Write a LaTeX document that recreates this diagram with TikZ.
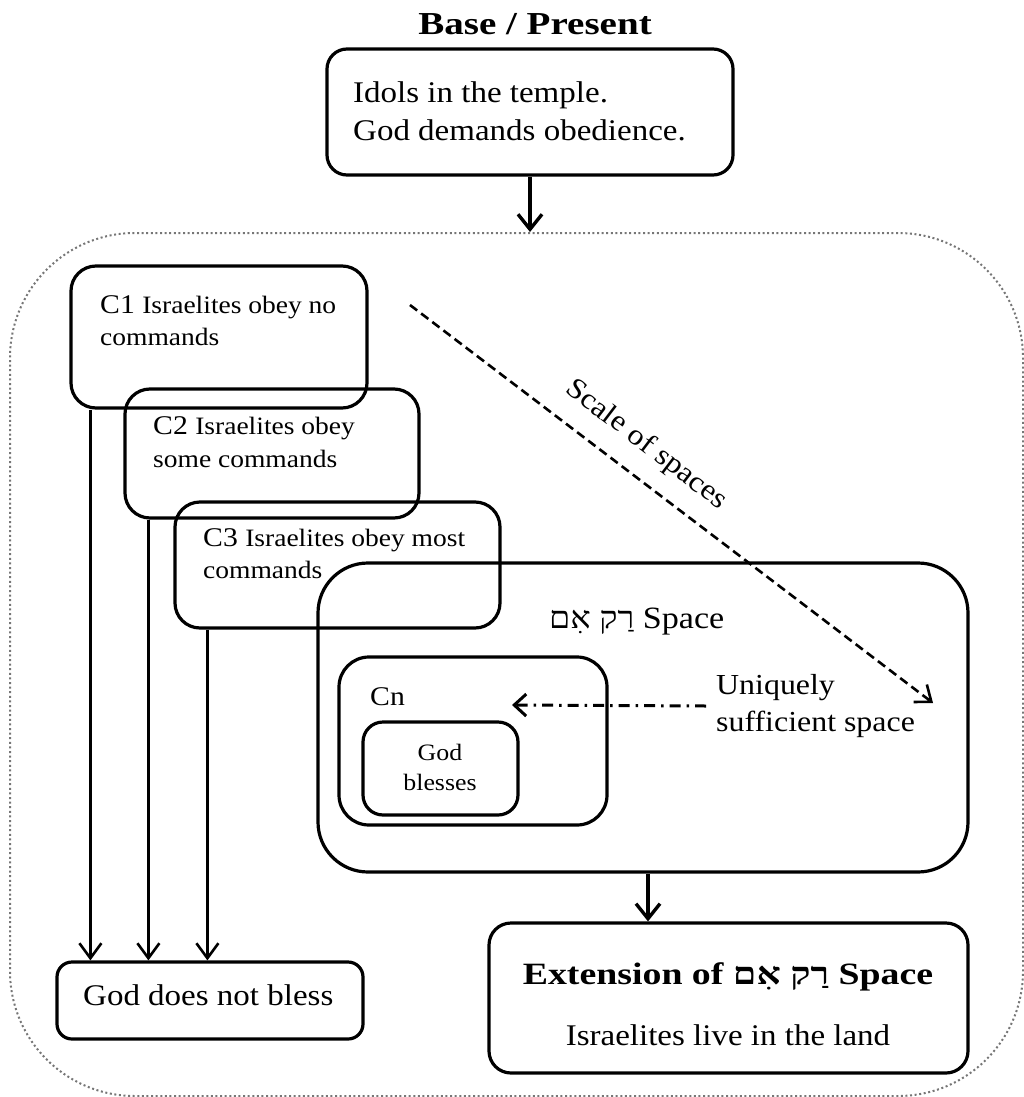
\documentclass[tikz,border=0pt]{standalone}
\usepackage{fontspec}
\setmainfont[FakeStretch=1.1]{Liberation Serif}
\newfontfamily\boldwide[FakeStretch=1.22]{Liberation Serif}
\newfontfamily\hebfont[Script=Hebrew,FakeStretch=1.1]{Liberation Serif}
\newfontfamily\hebboldwide[Script=Hebrew,FakeStretch=1.22]{Liberation Serif}
\TeXXeTstate=1
\usetikzlibrary{arrows.meta}
\newcommand\fsz[1]{\fontsize{#1}{#1}\selectfont}
\definecolor{framegrey}{RGB}{118,118,118}

\begin{document}
\begin{tikzpicture}[x=1pt,y=-1pt,
  box/.style={draw, line width=3.2pt, inner sep=0pt, rounded corners=#1},
  box/.default=20pt,
  txt/.style={inner sep=0pt, anchor=base west},
  outerframe/.style={draw=framegrey, line width=2pt, dash pattern=on 2pt off 2.6pt,
                     rounded corners=125pt, inner sep=0pt},
  conn/.style={line width=2.6pt, -{Straight Barb[length=15pt,width=22pt,line width=2.6pt]}},
  bigconn/.style={line width=3.8pt, -{Straight Barb[length=15pt,width=24pt,line width=3.4pt]}},
  scaleline/.style={line width=2.6pt, dash pattern=on 9pt off 5pt,
                    -{Straight Barb[length=14pt,width=22pt,line width=2.6pt]}},
  pointer/.style={line width=3pt, dash pattern=on 11pt off 6pt on 2.5pt off 6pt,
                  -{Straight Barb[length=12pt,width=22pt,line width=3pt]}}
]
\useasboundingbox (0,0) rectangle (1024,1097);

% outer dotted region
\node[outerframe, minimum width=1013pt, minimum height=863pt] (outer) at (516.5,664.5) {};

% starting state
\node[txt, anchor=base, font=\boldwide\bfseries\fsz{32}] (title) at (535,35) {Base / Present};
\node[box=20pt, minimum width=406pt, minimum height=126pt] (top) at (530,112) {};
\node[txt, font=\fsz{30}] (top1) at (353,103) {Idols in the temple.};
\node[txt, font=\fsz{30}] (top2) at (353,140) {God demands obedience.};

% the three conditions
\node[box=25pt, minimum width=296pt, minimum height=142pt] (c1) at (219,337) {};
\node[box=25pt, minimum width=294pt, minimum height=129pt] (c2) at (272,453.5) {};
\node[box=25pt, minimum width=325pt, minimum height=126pt] (c3) at (337.5,565) {};
\node[txt] (c1a) at (100,313) {\fsz{27}C1 \fsz{25}Israelites obey no};
\node[txt, font=\fsz{25}] (c1b) at (100,345) {commands};
\node[txt] (c2a) at (153,434) {\fsz{27}C2 \fsz{25}Israelites obey};
\node[txt, font=\fsz{25}] (c2b) at (153,467) {some commands};
\node[txt] (c3a) at (203,546) {\fsz{27}C3 \fsz{25}Israelites obey most};
\node[txt, font=\fsz{25}] (c3b) at (203,578) {commands};

% the sufficient space
\node[box=50pt, minimum width=650pt, minimum height=309pt] (space) at (643,717.5) {};
\node[txt, font=\fsz{31}] (spacelabel) at (549,628) {{\hebfont\beginR רַק אִם\endR} Space};
\node[box=30pt, minimum width=268pt, minimum height=168pt] (cn) at (473,741) {};
\node[txt, font=\fsz{27}] (cnlabel) at (370,705) {Cn};
\node[box=20pt, minimum width=155pt, minimum height=93pt] (bless) at (440.5,768.5) {};
\node[inner sep=0pt, anchor=base, font=\fsz{23.5}] (bless1) at (440,760) {God};
\node[inner sep=0pt, anchor=base, font=\fsz{23.5}] (bless2) at (440,790) {blesses};
\node[anchor=west, inner xsep=10pt, inner ysep=0pt, align=left,
      font=\fontsize{29}{37}\selectfont] (uniq) at (706,706) {Uniquely\\sufficient space};
\coordinate (cnpt) at (512,705);

% outcomes
\node[box=15pt, minimum width=306pt, minimum height=77pt] (nb) at (210,1000.5) {};
\node[txt, font=\fsz{30}] (nblabel) at (83,1005) {God does not bless};
\node[box=22pt, minimum width=479pt, minimum height=150pt] (ext) at (728.5,998) {};
\node[inner sep=0pt, anchor=base, font=\boldwide\bfseries\fsz{31}] (exttitle) at (728,984)
  {Extension of {\hebboldwide\bfseries\beginR רַק אִם\endR} Space};
\node[inner sep=0pt, anchor=base, font=\fsz{30}] (extline) at (728,1045) {Israelites live in the land};

% connectors
\draw[bigconn] (top.south) -- (top.south |- outer.north);
\draw[conn] ([xshift=21pt]c1.south west) -- ([xshift=21pt]c1.south west |- nb.north);
\draw[conn] ([xshift=25pt]c2.south west) -- ([xshift=25pt]c2.south west |- nb.north);
\draw[conn] ([xshift=34pt]c3.south west) -- ([xshift=34pt]c3.south west |- nb.north);
\draw[bigconn] ([xshift=5pt]space.south) -- ([xshift=5pt]space.south |- ext.north);
\draw[pointer] (uniq.west) -- (cnpt);

% scale of spaces
\coordinate (sa) at (410,305);
\coordinate (sb) at (933,703);
\draw[scaleline] (sa) -- node[sloped, pos=0.415, above=17pt, inner sep=0pt, font=\fsz{29}] (scalelabel) {Scale of spaces} (sb);
\end{tikzpicture}
\end{document}
